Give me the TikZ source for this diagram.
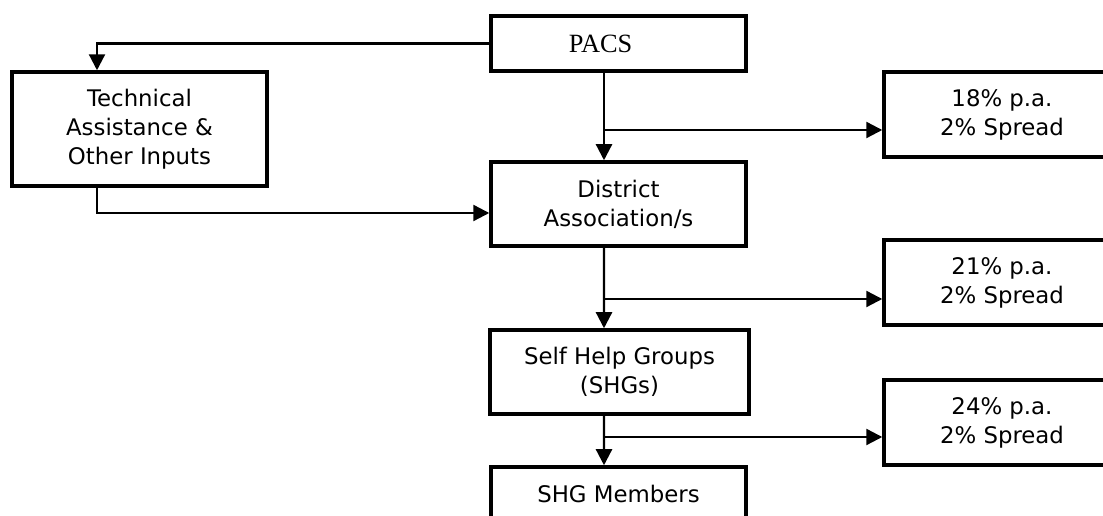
\documentclass[tikz,border=0pt]{standalone}
\usepackage{fontspec}
\setmainfont{DejaVu Sans}
\newfontfamily\pacsfont{Liberation Serif}
\usetikzlibrary{arrows.meta}

\begin{document}
\begin{tikzpicture}[x=0.02cm,y=-0.02cm,
	box/.style={draw,line width=2pt,minimum width=5.1cm,align=center,inner sep=0pt,font=\fontsize{13}{16.5}\selectfont},
	rate/.style={box,minimum width=4.72cm,minimum height=1.7cm},
	arr/.style={line width=1.3pt,-{Triangle[length=0.32cm,width=0.32cm]}}]
	\clip (0,0) rectangle (1103,516);
	\node[box,minimum height=1.1cm,font=\pacsfont\fontsize{15}{17}\selectfont] at (618.5,43.5) (pacs) {PACS\hspace{0.72cm}};
	\node[box,minimum height=2.28cm] at (139.5,129) (tech) {Technical\\Assistance \&\\Other Inputs};
	\node[box,minimum height=1.68cm] at (618.5,204) (dist) {District\\Association/s};
	\node[box,minimum height=1.68cm,minimum width=5.18cm] at (619.5,372) (shg) {Self Help Groups\\(SHGs)};
	\node[box,minimum height=1.08cm] at (618.5,494) (memb) {SHG Members};
	\node[rate] at (1002,114.5) (r18) {18\% p.a.\\2\% Spread};
	\node[rate] at (1002,282.5) (r21) {21\% p.a.\\2\% Spread};
	\node[rate] at (1002,422.5) (r24) {24\% p.a.\\2\% Spread};
	\coordinate (b18) at (604,130);
	\coordinate (b21) at (604,299);
	\coordinate (b24) at (604,437);
	\draw[arr] (pacs.west) -| ([xshift=-0.85cm]tech.north);
	\draw[arr] ([xshift=-0.85cm]tech.south) |- ([yshift=-0.18cm]dist.west);
	\draw[arr] ([xshift=-0.29cm]pacs.south) -- ([xshift=-0.29cm]dist.north);
	\draw[arr] ([xshift=-0.29cm]dist.south) -- ([xshift=-0.31cm]shg.north);
	\draw[arr] ([xshift=-0.31cm]shg.south) -- ([xshift=-0.29cm]memb.north);
	\draw[arr] (b18) -- (r18.west |- b18);
	\draw[arr] (b21) -- (r21.west |- b21);
	\draw[arr] (b24) -- (r24.west |- b24);
\end{tikzpicture}
\end{document}
